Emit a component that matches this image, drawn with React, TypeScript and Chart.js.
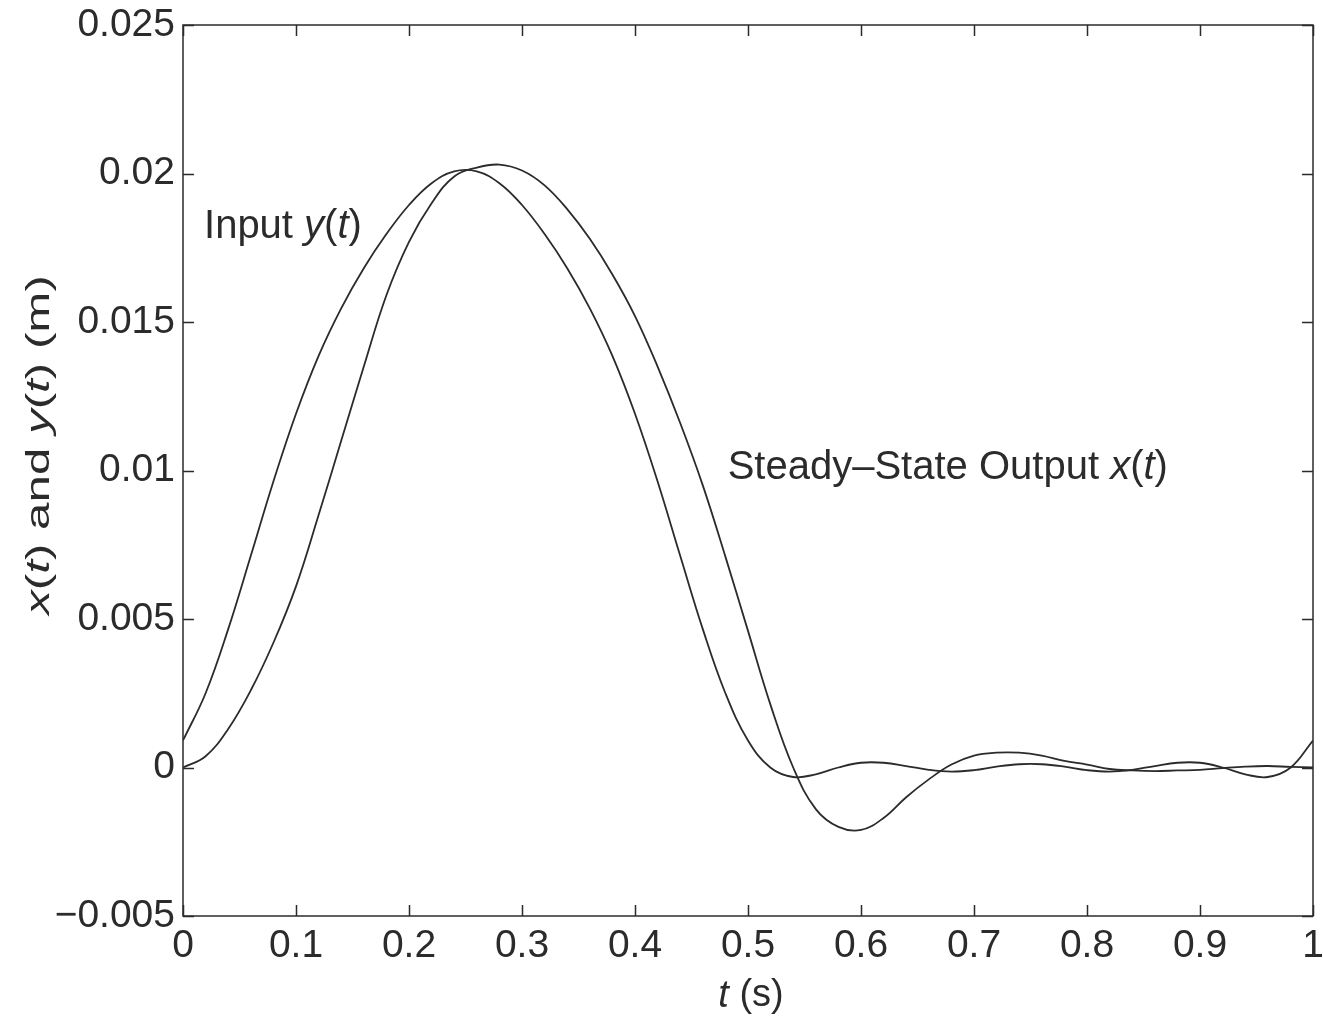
import React, { useEffect, useRef } from 'react';
import { Chart, registerables } from 'chart.js';

Chart.register(...registerables);

// time (s)
const TIME_S = [
  0, 0.02, 0.04, 0.06, 0.08, 0.1, 0.12, 0.14, 0.16, 0.18,
  0.2, 0.22, 0.24, 0.26, 0.28, 0.3, 0.32, 0.34, 0.36, 0.38,
  0.4, 0.42, 0.44, 0.46, 0.48, 0.5, 0.52, 0.54, 0.56, 0.58,
  0.6, 0.62, 0.64, 0.66, 0.68, 0.7, 0.72, 0.74, 0.76, 0.78,
  0.8, 0.82, 0.84, 0.86, 0.88, 0.9, 0.92, 0.94, 0.96, 0.98, 1.0,
];

// Input y(t) (m)
const INPUT_Y = [
  0.00091, 0.0025, 0.00466, 0.00713, 0.00963, 0.01191, 0.01386, 0.01546, 0.01681, 0.01796,
  0.01894, 0.01967, 0.02007, 0.02007, 0.01967, 0.01894, 0.01796, 0.01681, 0.01546, 0.01386,
  0.01191, 0.00963, 0.00713, 0.00466, 0.0025, 0.00091, -0.00001, -0.00032, -0.00023, 0.0,
  0.00016, 0.00016, 0.00005, -0.00008, -0.00014, -0.00009, 0.00003, 0.00011, 0.00011, 0.00003,
  -0.00009, -0.00014, -0.00008, 0.00005, 0.00016, 0.00016, 0.0, -0.00023, -0.00032, -0.00001, 0.00091,
];

// Steady-state output x(t) (m)
const OUTPUT_X = [
  0.0, 0.00038, 0.0013, 0.0026, 0.0042, 0.0061, 0.0085, 0.011, 0.0135, 0.0159,
  0.0177, 0.019, 0.0199, 0.0202, 0.0203, 0.0201, 0.0196, 0.0188, 0.0178, 0.0166,
  0.0152, 0.0135, 0.0116, 0.0095, 0.0071, 0.0046, 0.0021, 0.0, -0.0014, -0.002,
  -0.0021, -0.0017, -0.001, -0.0004, 0.0001, 0.0004, 0.0005, 0.0005, 0.0004, 0.00022,
  0.0001, -0.00005, -0.0001, -0.00012, -0.0001, -0.00008, -0.00002, 0.00003, 0.00005, 0.00002, 0.0,
];

const X_TICK_LABELS = ['0', '0.1', '0.2', '0.3', '0.4', '0.5', '0.6', '0.7', '0.8', '0.9', '1'];
const Y_TICK_LABELS = ['\u22120.005', '0', '0.005', '0.01', '0.015', '0.02', '0.025'];

const FONT = "'Liberation Sans', Arial, Helvetica, sans-serif";
const INK = '#2b2b2b';

type Seg = { t: string; i?: boolean };

function drawRich(
  ctx: CanvasRenderingContext2D,
  segs: Seg[],
  x: number,
  y: number,
  size: number,
  align: 'left' | 'center'
) {
  const widths = segs.map((s) => {
    ctx.font = `${s.i ? 'italic ' : ''}${size}px ${FONT}`;
    return ctx.measureText(s.t).width;
  });
  const total = widths.reduce((a, b) => a + b, 0);
  let cx = align === 'center' ? x - total / 2 : x;
  ctx.textAlign = 'left';
  ctx.textBaseline = 'middle';
  segs.forEach((s, k) => {
    ctx.font = `${s.i ? 'italic ' : ''}${size}px ${FONT}`;
    ctx.fillText(s.t, cx, y);
    cx += widths[k];
  });
}

const framePlugin = {
  id: 'frameTicks',
  afterDatasetsDraw(chart: any) {
    const { ctx, chartArea, scales } = chart;
    const { left, right, top, bottom } = chartArea;
    const xs = scales.x;
    const ys = scales.y;
    const L = 11;
    ctx.save();
    ctx.strokeStyle = INK;
    ctx.lineWidth = 1.5;
    ctx.strokeRect(left, top, right - left, bottom - top);
    ctx.beginPath();
    xs.ticks.forEach((t: any) => {
      const px = Math.round(xs.getPixelForValue(t.value)) + 0.5;
      ctx.moveTo(px, bottom);
      ctx.lineTo(px, bottom - L);
      ctx.moveTo(px, top);
      ctx.lineTo(px, top + L);
    });
    ys.ticks.forEach((t: any) => {
      const py = Math.round(ys.getPixelForValue(t.value)) + 0.5;
      ctx.moveTo(left, py);
      ctx.lineTo(left + L, py);
      ctx.moveTo(right, py);
      ctx.lineTo(right - L, py);
    });
    ctx.stroke();
    ctx.restore();
  },
  afterDraw(chart: any) {
    const { ctx, scales } = chart;
    const xs = scales.x;
    const ys = scales.y;
    ctx.save();
    ctx.fillStyle = INK;
    // annotations anchored in data space
    drawRich(
      ctx,
      [{ t: 'Input ' }, { t: 'y', i: true }, { t: '(' }, { t: 't', i: true }, { t: ')' }],
      xs.getPixelForValue(0.0186),
      ys.getPixelForValue(0.0182),
      40,
      'left'
    );
    drawRich(
      ctx,
      [
        { t: 'Steady\u2013State Output ' },
        { t: 'x', i: true },
        { t: '(' },
        { t: 't', i: true },
        { t: ')' },
      ],
      xs.getPixelForValue(0.482),
      ys.getPixelForValue(0.0101),
      40,
      'left'
    );
    // x axis title
    drawRich(ctx, [{ t: 't', i: true }, { t: ' (s)' }], xs.getPixelForValue(0.5) + 3, 996, 38, 'center');
    // y axis title (rotated)
    ctx.translate(40, 445);
    ctx.rotate(-Math.PI / 2);
    ctx.scale(1.45, 1);
    drawRich(
      ctx,
      [
        { t: 'x', i: true },
        { t: '(' },
        { t: 't', i: true },
        { t: ') and ' },
        { t: 'y', i: true },
        { t: '(' },
        { t: 't', i: true },
        { t: ') (m)' },
      ],
      0,
      0,
      34,
      'center'
    );
    ctx.restore();
  },
};

export default function App() {
  const canvasRef = useRef<HTMLCanvasElement | null>(null);

  useEffect(() => {
    const canvas = canvasRef.current;
    if (!canvas) return;
    const toPoints = (vals: number[]) => TIME_S.map((t, k) => ({ x: t, y: vals[k] }));
    const chart = new Chart(canvas, {
      type: 'line',
      data: {
        datasets: [
          {
            label: 'Input y(t)',
            data: toPoints(INPUT_Y),
            borderColor: INK,
            borderWidth: 1.8,
            pointRadius: 0,
            tension: 0.4,
            fill: false,
          },
          {
            label: 'Steady-State Output x(t)',
            data: toPoints(OUTPUT_X),
            borderColor: INK,
            borderWidth: 1.8,
            pointRadius: 0,
            tension: 0.4,
            fill: false,
          },
        ],
      },
      options: {
        responsive: false,
        animation: false,
        devicePixelRatio: 1,
        layout: { padding: { top: 25, right: 10, left: 0, bottom: 0 } },
        plugins: {
          legend: { display: false },
          tooltip: { enabled: false },
          title: { display: false },
        },
        scales: {
          x: {
            type: 'linear',
            min: 0,
            max: 1,
            grid: { display: false, drawTicks: false },
            border: { display: false },
            ticks: {
              stepSize: 0.1,
              autoSkip: false,
              maxRotation: 0,
              padding: 7,
              color: INK,
              font: { family: FONT, size: 39 },
              callback: (_v: any, i: number) => X_TICK_LABELS[i],
            },
            afterFit: (s: any) => {
              s.height = 106;
              s.paddingLeft = 0;
              s.paddingRight = 0;
            },
          },
          y: {
            type: 'linear',
            min: -0.005,
            max: 0.025,
            grid: { display: false, drawTicks: false },
            border: { display: false },
            ticks: {
              stepSize: 0.005,
              autoSkip: false,
              padding: 8,
              color: INK,
              font: { family: FONT, size: 39 },
              callback: (_v: any, i: number) => Y_TICK_LABELS[i],
            },
            afterFit: (s: any) => {
              s.width = 183;
              s.paddingTop = 0;
              s.paddingBottom = 0;
            },
          },
        },
      },
      plugins: [framePlugin],
    } as any);
    return () => chart.destroy();
  }, []);

  return (
    <div style={{ position: 'fixed', left: 0, top: 0, width: 1323, height: 1022, background: '#fff' }}>
      <canvas ref={canvasRef} width={1323} height={1022} style={{ display: 'block' }} />
    </div>
  );
}
